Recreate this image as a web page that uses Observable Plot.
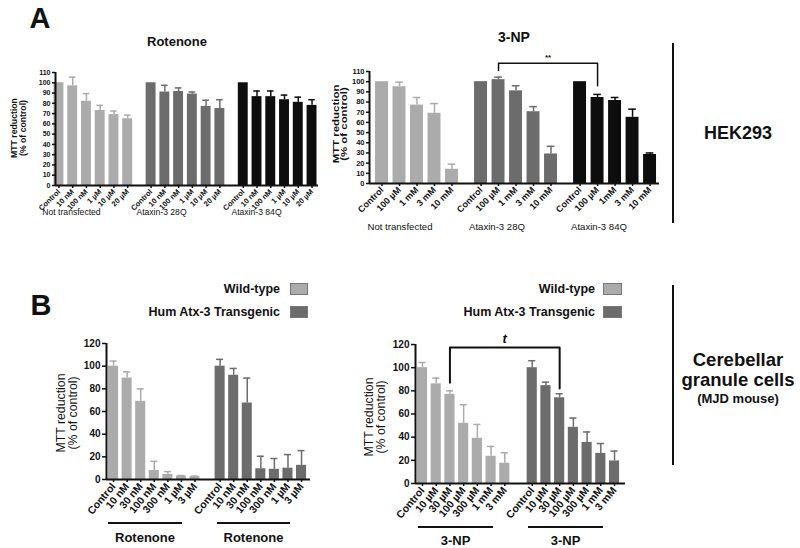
<!DOCTYPE html>
<html><head><meta charset="utf-8">
<script src="https://cdn.jsdelivr.net/npm/d3@7"></script>
<script src="https://cdn.jsdelivr.net/npm/@observablehq/plot@0.6"></script>
<style>
html,body{margin:0;padding:0;background:#fff;}
#fig{position:relative;width:800px;height:548px;overflow:hidden;background:#fff;font-family:"Liberation Sans",Arial,Helvetica,sans-serif;color:#111;}
.abs{position:absolute;white-space:nowrap;line-height:1;}
.rule{position:absolute;background:#111;}
.sw{position:absolute;box-sizing:border-box;border:1px solid #777;}
</style></head><body><div id="fig"></div>
<script>
// ---------- DATA ----------
// Panel A, Rotenone (HEK293)
const A_ROT_GROUPS = ["Not transfected", "Ataxin-3 28Q", "Ataxin-3 84Q"];
const A_ROT_DOSES = ["Control", "10 nM", "100 nM", "1 µM", "10 µM", "20 µM"];
const A_ROT_NT = [100, 97, 82, 73, 69, 65];
const A_ROT_NT_ERR = [0, 8.5, 7.5, 5, 3.5, 3.5];
const A_ROT_28Q = [100, 91, 91.5, 89, 77, 75];
const A_ROT_28Q_ERR = [0, 6.5, 3.5, 2, 6, 8.5];
const A_ROT_84Q = [100, 86.5, 86.5, 83.5, 81, 78];
const A_ROT_84Q_ERR = [0, 5.5, 5.5, 4.5, 5, 5.5];

// Panel A, 3-NP (HEK293)
const A_NP_GROUPS = ["Not transfected", "Ataxin-3 28Q", "Ataxin-3 84Q"];
const A_NP_DOSES_NT = ["Control", "100 µM", "1 mM", "3 mM", "10 mM"];
const A_NP_DOSES_28Q = ["Control", "100 µM", "1 mM", "3 mM", "10 mM"];
const A_NP_DOSES_84Q = ["Control", "100 µM", "1mM", "3 mM", "10 mM"];
const A_NP_NT = [100, 95, 77, 69, 14];
const A_NP_NT_ERR = [0, 4.5, 7.5, 9.5, 5];
const A_NP_28Q = [100, 102, 91, 70.5, 29];
const A_NP_28Q_ERR = [0, 2.5, 5, 5, 7.5];
const A_NP_84Q = [100, 84.5, 81.5, 65, 28.5];
const A_NP_84Q_ERR = [0, 3, 3, 8, 1.5];
const A_NP_SIG = {from: [1, 1], to: [2, 1], level: 118, legs: [111, 96], label: "**"};

// Panel B, Rotenone (cerebellar granule cells)
const B_SERIES = ["Wild-type", "Hum Atx-3 Transgenic"];
const B_ROT_DOSES = ["Control", "10 nM", "30 nM", "100 nM", "300 nM", "1 µM", "3 µM"];
const B_ROT_WT = [100, 89.5, 69, 8, 4.5, 3, 2.5];
const B_ROT_WT_ERR = [4.5, 5.5, 11, 8, 2.5, 0.5, 0.5];
const B_ROT_TG = [100, 92, 67.5, 9.5, 9, 10, 12.5];
const B_ROT_TG_ERR = [6, 6, 22, 11, 9.5, 12, 13];

// Panel B, 3-NP
const B_NP_DOSES = ["Control", "10 µM", "30 µM", "100 µM", "300 µM", "1 mM", "3 mM"];
const B_NP_WT = [100, 86, 77, 52, 39, 23.5, 17.5];
const B_NP_WT_ERR = [4.5, 5, 3, 16, 12, 8.5, 9];
const B_NP_TG = [100, 84.5, 74, 48.5, 35.5, 26, 19.5];
const B_NP_TG_ERR = [6, 3, 3.5, 8, 9, 8.5, 8.5];
const B_NP_SIG = {from: [0, 2], to: [1, 2], level: 117.5, legs: [87, 82], label: "t"};

// ---------- STYLE ----------
const FONT = '"Liberation Sans", Arial, Helvetica, sans-serif';
const C_LIGHT = "#ababab", C_MID = "#6c6c6c", C_DARK = "#0d0d0d";
const fig = document.getElementById("fig");

function panel(cfg) {
  const rows = [];
  const starts = [];
  let off = 0;
  cfg.groups.forEach((g) => {
    starts.push(off);
    g.doses.forEach((d, i) => rows.push({group: g.name, dose: d, pos: off + i, v: g.mean[i], e: g.err[i], color: g.color}));
    off += g.doses.length + cfg.gap;
  });
  const key = (p) => (+p).toFixed(3);
  const lab = new Map(rows.map((r) => [key(r.pos), r.dose]));
  const withErr = rows.filter((d) => d.e > 0);
  const marks = [
    Plot.rect(rows, {x1: (d) => d.pos - cfg.hw, x2: (d) => d.pos + cfg.hw, y1: () => 0, y2: "v", fill: "color"}),
    Plot.ruleX(withErr, {x: "pos", y1: "v", y2: (d) => d.v + d.e, stroke: "color", strokeWidth: 1.5}),
    Plot.ruleY(withErr, {y: (d) => d.v + d.e, x1: (d) => d.pos - cfg.cw, x2: (d) => d.pos + cfg.cw, stroke: "color", strokeWidth: 1.5}),
    Plot.ruleY([0], {stroke: "#111", strokeWidth: 2}),
    Plot.ruleX([cfg.xDomain[0]], {stroke: "#111", strokeWidth: 2}),
    Plot.axisY({ticks: cfg.yTicks, tickSize: cfg.tickSize, tickPadding: 2, fontSize: cfg.yFont, fontWeight: "bold", strokeWidth: 1.5, label: null, tickFormat: (d) => String(d)}),
    Plot.axisX({ticks: rows.map((d) => d.pos), tickFormat: (d) => lab.get(key(d)), tickRotate: cfg.rotate, tickSize: 3, tickPadding: 2, fontSize: cfg.xFont, fontWeight: "bold", strokeWidth: 1.5, label: null})
  ];
  if (cfg.sig) {
    const s = cfg.sig;
    const p1 = starts[s.from[0]] + s.from[1];
    const p2 = starts[s.to[0]] + s.to[1];
    marks.push(Plot.line([{x: p1, y: s.legs[0]}, {x: p1, y: s.level}, {x: p2, y: s.level}, {x: p2, y: s.legs[1]}], {x: "x", y: "y", stroke: "#111", strokeWidth: cfg.sigStroke || 1.5}));
    marks.push(Plot.text([{x: (p1 + p2) / 2, y: s.level, t: s.label}], {x: "x", y: "y", text: "t", dy: cfg.sigDy, fontSize: cfg.sigFont, fontWeight: "bold", fontStyle: cfg.sigStyle || "normal", fill: "#111"}));
  }
  const svg = Plot.plot({
    width: cfg.width, height: cfg.height,
    marginTop: cfg.mt, marginRight: cfg.mr, marginBottom: cfg.mb, marginLeft: cfg.ml,
    x: {domain: cfg.xDomain},
    y: {domain: [0, cfg.yMax]},
    color: {type: "identity"},
    style: {fontFamily: FONT, background: "transparent", color: "#111", overflow: "visible"},
    marks
  });
  svg.style.position = "absolute";
  svg.style.left = cfg.left + "px";
  svg.style.top = cfg.top + "px";
  svg.style.maxWidth = "none";
  fig.appendChild(svg);
}

function txt(s, x, y, style = {}, anchor = "middle", extra = "") {
  const el = document.createElement("div");
  el.className = "abs";
  el.textContent = s;
  el.style.left = x + "px";
  el.style.top = y + "px";
  Object.assign(el.style, style);
  const tx = anchor === "middle" ? "-50%" : anchor === "end" ? "-100%" : "0";
  el.style.transform = `translate(${tx}, -50%)` + extra;
  fig.appendChild(el);
  return el;
}
function ylabel(lines, x, y, style, sx = 1) {
  const el = document.createElement("div");
  el.className = "abs";
  el.style.textAlign = "center";
  el.style.left = x + "px";
  el.style.top = y + "px";
  Object.assign(el.style, style);
  lines.forEach((l, i) => { if (i) el.appendChild(document.createElement("br")); el.appendChild(document.createTextNode(l)); });
  el.style.transform = `translate(-50%, -50%) rotate(-90deg) scaleX(${sx})`;
  fig.appendChild(el);
}
function rule(x, y, w, h) {
  const el = document.createElement("div");
  el.className = "rule";
  Object.assign(el.style, {left: x + "px", top: y + "px", width: w + "px", height: h + "px"});
  fig.appendChild(el);
}
function swatch(x, y, w, h, c) {
  const el = document.createElement("div");
  el.className = "sw";
  Object.assign(el.style, {left: x + "px", top: y + "px", width: w + "px", height: h + "px", background: c});
  fig.appendChild(el);
}

// ---------- PANEL A ----------
panel({
  left: 0, top: 45, width: 330, height: 180, mt: 27, mr: 12, mb: 40, ml: 55,
  xDomain: [-0.25, 18.87], gap: 0.7, hw: 0.36, cw: 0.24, yMax: 110, yTicks: d3.range(0, 111, 10),
  yFont: 7, xFont: 7.5, rotate: -45, tickSize: 3,
  groups: [
    {name: A_ROT_GROUPS[0], doses: A_ROT_DOSES, mean: A_ROT_NT, err: A_ROT_NT_ERR, color: C_LIGHT},
    {name: A_ROT_GROUPS[1], doses: A_ROT_DOSES, mean: A_ROT_28Q, err: A_ROT_28Q_ERR, color: C_MID},
    {name: A_ROT_GROUPS[2], doses: A_ROT_DOSES, mean: A_ROT_84Q, err: A_ROT_84Q_ERR, color: C_DARK}
  ]
});
panel({
  left: 330, top: 45, width: 340, height: 190, mt: 26, mr: 11, mb: 52, ml: 39,
  xDomain: [-0.715, 15.86], gap: 0.66, hw: 0.37, cw: 0.22, yMax: 110, yTicks: d3.range(0, 111, 10),
  yFont: 7.5, xFont: 9, rotate: -45, tickSize: 3,
  sig: A_NP_SIG, sigDy: -6, sigFont: 8,
  groups: [
    {name: A_NP_GROUPS[0], doses: A_NP_DOSES_NT, mean: A_NP_NT, err: A_NP_NT_ERR, color: C_LIGHT},
    {name: A_NP_GROUPS[1], doses: A_NP_DOSES_28Q, mean: A_NP_28Q, err: A_NP_28Q_ERR, color: C_MID},
    {name: A_NP_GROUPS[2], doses: A_NP_DOSES_84Q, mean: A_NP_84Q, err: A_NP_84Q_ERR, color: C_DARK}
  ]
});

txt("A", 40, 18, {fontSize: "29px", fontWeight: "bold"});
txt("Rotenone", 177, 41, {fontSize: "13px", fontWeight: "bold"});
txt("3-NP", 514, 37, {fontSize: "14px", fontWeight: "bold"});
[71.5, 161.5, 256.5].forEach((x, i) => txt(A_ROT_GROUPS[i], x, 212, {fontSize: "8.6px"}));
[400, 497, 599].forEach((x, i) => txt(A_NP_GROUPS[i], x, 227, {fontSize: "9.6px"}));
ylabel(["MTT reduction", "(% of control)"], 19, 128, {fontSize: "8.7px", fontWeight: "bold", lineHeight: "1.05"});
ylabel(["MTT reduction", "(% of control)"], 340, 124, {fontSize: "8.6px", fontWeight: "bold", lineHeight: "0.95"}, 1.33);
rule(672, 43, 2, 180);
txt("HEK293", 738, 133, {fontSize: "18px", fontWeight: "bold"});

// ---------- PANEL B ----------
panel({
  left: 0, top: 330, width: 330, height: 192, mt: 13, mr: 20, mb: 43, ml: 106,
  xDomain: [-0.52, 14.51], gap: 0.85, hw: 0.37, cw: 0.26, yMax: 120, yTicks: d3.range(0, 121, 20),
  yFont: 10, xFont: 10.5, rotate: -50, tickSize: 4,
  groups: [
    {name: B_SERIES[0], doses: B_ROT_DOSES, mean: B_ROT_WT, err: B_ROT_WT_ERR, color: C_LIGHT},
    {name: B_SERIES[1], doses: B_ROT_DOSES, mean: B_ROT_TG, err: B_ROT_TG_ERR, color: C_MID}
  ]
});
panel({
  left: 330, top: 325, width: 330, height: 197, mt: 19, mr: 35, mb: 39, ml: 85,
  xDomain: [-0.51, 14.8], gap: 1.0, hw: 0.37, cw: 0.26, yMax: 120, yTicks: d3.range(0, 121, 20),
  yFont: 10, xFont: 10.5, rotate: -50, tickSize: 4,
  sig: B_NP_SIG, sigDy: -9, sigFont: 13, sigStyle: "italic", sigStroke: 2,
  groups: [
    {name: B_SERIES[0], doses: B_NP_DOSES, mean: B_NP_WT, err: B_NP_WT_ERR, color: C_LIGHT},
    {name: B_SERIES[1], doses: B_NP_DOSES, mean: B_NP_TG, err: B_NP_TG_ERR, color: C_MID}
  ]
});

txt("B", 41, 305, {fontSize: "29px", fontWeight: "bold"});
// legends
txt(B_SERIES[0], 280, 289, {fontSize: "12.5px", fontWeight: "bold"}, "end");
txt(B_SERIES[1], 280, 312, {fontSize: "12.5px", fontWeight: "bold"}, "end");
swatch(290, 283, 18, 12, C_LIGHT);
swatch(290, 306, 18, 12, C_MID);
txt(B_SERIES[0], 595, 289, {fontSize: "12.5px", fontWeight: "bold"}, "end");
txt(B_SERIES[1], 595, 312, {fontSize: "12.5px", fontWeight: "bold"}, "end");
swatch(603, 283, 19, 12, C_LIGHT);
swatch(603, 306, 19, 12, C_MID);
ylabel(["MTT reduction", "(% of control)"], 67.5, 413, {fontSize: "12.3px", lineHeight: "0.95"});
ylabel(["MTT reduction", "(% of control)"], 376, 417, {fontSize: "12.3px", lineHeight: "0.95"});
rule(108, 522, 74, 2); rule(217, 522, 73, 2);
txt("Rotenone", 145, 537, {fontSize: "13px", fontWeight: "bold"});
txt("Rotenone", 253.5, 537, {fontSize: "13px", fontWeight: "bold"});
rule(418, 526, 75, 2); rule(528, 526, 75, 2);
txt("3-NP", 455.5, 540, {fontSize: "13px", fontWeight: "bold"});
txt("3-NP", 565.5, 540, {fontSize: "13px", fontWeight: "bold"});
rule(672, 285, 2, 180);
txt("Cerebellar", 738, 360, {fontSize: "18.5px", fontWeight: "bold"});
txt("granule cells", 738, 379.5, {fontSize: "18.5px", fontWeight: "bold"});
txt("(MJD mouse)", 738, 397.5, {fontSize: "13px", fontWeight: "bold"});
</script>
</body></html>
